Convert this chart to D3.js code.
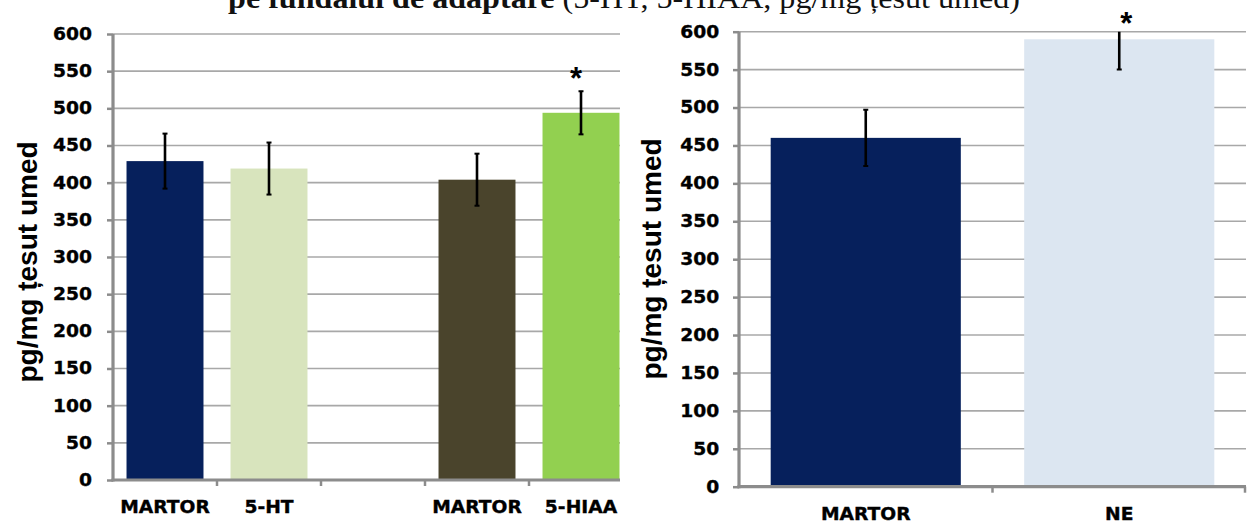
<!DOCTYPE html>
<html>
<head>
<meta charset="utf-8">
<script src="https://cdn.jsdelivr.net/npm/d3@7/dist/d3.min.js"></script>
<style>
  html, body { margin: 0; padding: 0; background: #ffffff; }
  svg { display: block; }
</style>
</head>
<body>
<svg id="chart" width="1254" height="525"></svg>
<script>
// ---- data ----
const yTicks = [0, 50, 100, 150, 200, 250, 300, 350, 400, 450, 500, 550, 600];

// serotonin panel: MARTOR / 5-HT, gap, MARTOR / 5-HIAA
const leftCategories = ["MARTOR", "5-HT", "", "MARTOR", "5-HIAA"];
const leftValues = [429, 419, null, 404, 494];
const leftErrors = [37, 35, null, 35, 29];
const leftSignificant = [false, false, false, false, true];

// noradrenaline panel
const rightCategories = ["MARTOR", "NE"];
const rightValues = [460, 590];
const rightErrors = [37, 40];
const rightSignificant = [false, true];

const titleBold = "pe fundalul de adaptare ";
const titleRest = "(5-HT, 5-HIAA, pg/mg țesut umed)";
const yTitle = "pg/mg țesut umed";

// ---- styles ----
const leftColors = ["#06205c", "#d8e4bd", "none", "#4a442c", "#92d050"];
const rightColors = ["#06205c", "#dce6f1"];
const axisColor = "#8c8c8c";
const gridColor = "#a8a8a8";
const tickFont = "'DejaVu Sans', Verdana, sans-serif";

const svg = d3.select("#chart");

// headline (its upper part runs past the top edge)
svg.append("text")
  .attr("transform", "translate(624,8) scale(1.07,1)")
  .attr("text-anchor", "middle")
  .style("font-family", "'Liberation Serif', 'Times New Roman', serif")
  .style("font-size", "30px")
  .style("fill", "#111")
  .call(t => {
    t.append("tspan").style("font-weight", "bold").text(titleBold);
    t.append("tspan").text(titleRest);
  });

function drawPanel(cfg) {
  const g = svg.append("g");
  const idx = d3.range(cfg.categories.length);

  const y = d3.scaleLinear().domain([0, 600]).range([cfg.yBottom, cfg.yTop]);
  const x = d3.scaleBand().domain(idx).range([cfg.x0, cfg.x1])
    .paddingInner(cfg.padInner).paddingOuter(cfg.padInner / 2);

  const clipId = "clip" + cfg.name;
  svg.append("defs").append("clipPath").attr("id", clipId)
    .append("rect")
    .attr("x", cfg.x0).attr("y", cfg.yTop)
    .attr("width", cfg.xEnd - cfg.x0).attr("height", cfg.yBottom - cfg.yTop);

  // horizontal gridlines
  g.append("g").selectAll("line")
    .data(yTicks.filter(v => v > 0))
    .join("line")
    .attr("x1", cfg.x0).attr("x2", cfg.xEnd)
    .attr("y1", d => y(d)).attr("y2", d => y(d))
    .attr("stroke", gridColor).attr("stroke-width", 1.6);

  // bars
  const plot = g.append("g").attr("clip-path", `url(#${clipId})`);
  const bars = idx.filter(i => cfg.values[i] != null);
  plot.selectAll("rect.bar")
    .data(bars)
    .join("rect")
    .attr("class", "bar")
    .attr("x", i => x(i))
    .attr("width", x.bandwidth())
    .attr("y", i => y(cfg.values[i]))
    .attr("height", i => y(0) - y(cfg.values[i]))
    .attr("fill", i => cfg.colors[i]);

  // error bars
  const eb = plot.selectAll("g.err").data(bars).join("g").attr("class", "err");
  const cx = i => x(i) + x.bandwidth() / 2;
  eb.append("line")
    .attr("x1", cx).attr("x2", cx)
    .attr("y1", i => y(cfg.values[i] + cfg.errors[i]))
    .attr("y2", i => y(cfg.values[i] - cfg.errors[i]))
    .attr("stroke", "#000").attr("stroke-width", 2.6);
  [1, -1].forEach(s => {
    eb.append("line")
      .attr("x1", i => cx(i) - 2.5).attr("x2", i => cx(i) + 2.5)
      .attr("y1", i => y(cfg.values[i] + s * cfg.errors[i]))
      .attr("y2", i => y(cfg.values[i] + s * cfg.errors[i]))
      .attr("stroke", "#000").attr("stroke-width", 2);
  });

  // significance marks
  g.selectAll("text.star")
    .data(idx.filter(i => cfg.significant[i]))
    .join("text")
    .attr("class", "star")
    .attr("x", i => cx(i) + cfg.starDx)
    .attr("y", i => y(cfg.starValue) + 16)
    .attr("text-anchor", "middle")
    .style("font-family", "'Liberation Sans', Arial, sans-serif")
    .style("font-weight", "bold")
    .style("font-size", "31px")
    .text("*");

  // y axis
  const yAxis = g.append("g")
    .attr("transform", `translate(${cfg.x0},0)`)
    .call(d3.axisLeft(y).tickValues(yTicks).tickSize(6).tickPadding(cfg.tickPad));
  yAxis.select(".domain").remove();
  yAxis.selectAll(".tick line").attr("stroke", axisColor).attr("stroke-width", 2.5);
  yAxis.selectAll(".tick text")
    .style("font-family", tickFont)
    .style("font-weight", "bold")
    .style("font-size", "17px")
    .attr("fill", "#000")
    .attr("stroke", "#000").attr("stroke-width", 0.35)
    .attr("transform", "scale(1.1,1)");
  g.append("line")
    .attr("x1", cfg.x0).attr("x2", cfg.x0)
    .attr("y1", cfg.yTop).attr("y2", cfg.yBottom + 1.5)
    .attr("stroke", axisColor).attr("stroke-width", 3.2);

  // x axis
  g.append("line")
    .attr("x1", cfg.x0 - 1.5).attr("x2", cfg.xEnd)
    .attr("y1", y(0)).attr("y2", y(0))
    .attr("stroke", axisColor).attr("stroke-width", 3.2);
  const boundaries = idx.slice(1).map(i => x(i) - x.step() * x.paddingInner() / 2)
    .concat(cfg.endTick ? [cfg.xEnd - 1] : []);
  g.append("g").selectAll("line")
    .data(boundaries)
    .join("line")
    .attr("x1", d => d).attr("x2", d => d)
    .attr("y1", y(0)).attr("y2", y(0) + 6)
    .attr("stroke", axisColor).attr("stroke-width", 2.5);

  g.append("g").selectAll("text")
    .data(idx.filter(i => cfg.categories[i] !== ""))
    .join("text")
    .attr("transform", i => `translate(${cx(i)},${cfg.xLabelY}) scale(1.1,1)`)
    .attr("text-anchor", "middle")
    .style("font-family", tickFont)
    .style("font-weight", "bold")
    .style("font-size", "17px")
    .attr("stroke", "#000").attr("stroke-width", 0.35)
    .text(i => cfg.categories[i]);

  // y title
  g.append("text")
    .attr("transform", `translate(${cfg.titleX},${cfg.titleY}) rotate(-90)`)
    .attr("text-anchor", "middle")
    .attr("dominant-baseline", "central")
    .style("font-family", "'Liberation Sans', Arial, sans-serif")
    .style("font-weight", "bold")
    .style("font-size", "28px")
    .text(yTitle);
}

drawPanel({
  name: "L", categories: leftCategories, values: leftValues, errors: leftErrors,
  significant: leftSignificant, colors: leftColors,
  x0: 113, x1: 633, xEnd: 620, yTop: 34, yBottom: 480, padInner: 0.26,
  starValue: 547, starDx: -5, tickPad: 13, xLabelY: 513,
  titleX: 27, titleY: 262, endTick: false
});

drawPanel({
  name: "R", categories: rightCategories, values: rightValues, errors: rightErrors,
  significant: rightSignificant, colors: rightColors,
  x0: 739, x1: 1246, xEnd: 1246, yTop: 31.7, yBottom: 486.7, padInner: 0.25,
  starValue: 618, starDx: 7, tickPad: 12, xLabelY: 520,
  titleX: 651, titleY: 259, endTick: true
});
</script>
</body>
</html>
